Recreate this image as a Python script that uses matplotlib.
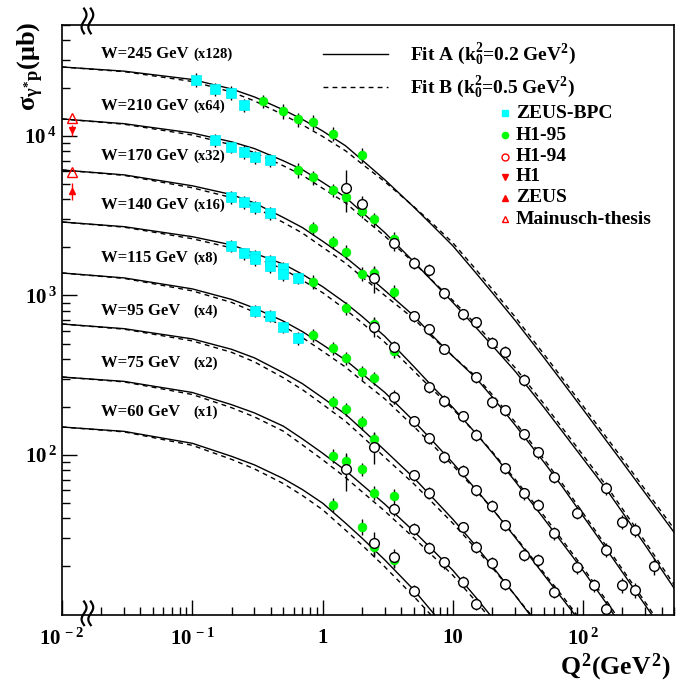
"""
gamma* p 总截面随 Q^2 的变化（不同 W，按 2^n 缩放）
Fit A / Fit B 曲线与 ZEUS、H1 数据对比
"""

import matplotlib
matplotlib.use('Agg')
import matplotlib.pyplot as plt
from matplotlib.lines import Line2D
import numpy as np

plt.rcParams['font.family'] = ['Liberation Serif', 'DejaVu Serif']
plt.rcParams['font.weight'] = 'bold'
plt.rcParams['mathtext.fontset'] = 'custom'
plt.rcParams['mathtext.rm'] = 'Liberation Serif:bold'
plt.rcParams['mathtext.it'] = 'Liberation Serif:bold'
plt.rcParams['mathtext.bf'] = 'Liberation Serif:bold'

# ---------------- 数据 ----------------
W_LABELS = ['W=245 GeV', 'W=210 GeV', 'W=170 GeV', 'W=140 GeV',
            'W=115 GeV', 'W=95 GeV', 'W=75 GeV', 'W=60 GeV']
SCALE_LABELS = ['(x128)', '(x64)', '(x32)', '(x16)', '(x8)', '(x4)', '(x2)', '(x1)']

# 拟合曲线的 Q^2 取样点 (GeV^2)
Q2_GRID = [0.01, 0.03, 0.1, 0.2, 0.3, 0.5, 0.7, 1, 1.5, 2, 3, 5, 7, 10, 15, 20,
           30, 50, 70, 100, 150, 200, 300, 500]

# Fit A (k0^2 = 0.2 GeV^2)，sigma 已乘缩放因子 (ub)
fit_a_245 = [27080, 25490, 22610, 19710, 17570, 14580, 12710, 10750, 8680, 7093, 5321, 3588,
             2739, 2046, 1386, 1044, 698.1, 407.4, 283.6, 192.3, 123.3, 90.0, 57.4, 32.6]
fit_a_210 = [12790, 11940, 10440, 9196, 8337, 6990, 6147, 5126, 4128, 3338, 2480, 1629,
             1224, 903.9, 631.0, 485.9, 335.3, 198.6, 138.6, 94.5, 61.2, 43.7, 27.1, 14.55]
fit_a_170 = [6121, 5704, 4873, 4292, 3801, 3083, 2665, 2189, 1738, 1430, 1076, 747.0,
             557.3, 415.7, 304.3, 231.4, 154.2, 90.1, 62.4, 41.3, 25.8, 18.4, 11.4]
fit_a_140 = [2889, 2700, 2337, 2076, 1839, 1573, 1358, 1136, 896.3, 741.6, 554.9, 359.3,
             267.7, 198.3, 136.6, 103.5, 68.5, 39.8, 27.7, 18.8, 11.8]
fit_a_115 = [1384, 1289, 1100, 945.2, 833.7, 690.9, 593.8, 491.5, 393.6, 323.9, 246.9, 163.6,
             122.2, 89.1, 60.9, 46.1, 30.5, 17.7, 12.4]
fit_a_95 = [662.6, 619.3, 534.4, 459.9, 406.3, 327.7, 279.9, 228.4, 179.9, 145.3, 107.0, 72.1,
            53.9, 39.5, 26.9, 20.1, 13.2]
fit_a_75 = [308.3, 289.3, 246.5, 206.8, 183.6, 151.6, 126.2, 102.6, 79.9, 65.3, 49.2, 33.3,
            25.4, 18.9, 12.8]
fit_a_60 = [149.8, 140.6, 118.4, 98.1, 86.7, 71.1, 60.7, 49.9, 37.4, 30.2, 22.0, 14.3, 10.3]
# 曲线与下边框 (sigma ~ 9.93) 的交点 Q^2
fit_a_end = [None, None, 337, 172, 86.5, 39.1, 19.3, 7.29]

# Fit B (k0^2 = 0.5 GeV^2)
fit_b_245 = [27080, 25310, 21970, 18870, 16590, 13570, 11740, 9930, 8076, 6695, 5169, 3614,
             2819, 2137, 1458, 1098, 734.3, 428.5, 298.3, 202.3, 129.7, 94.7, 60.4, 34.3]
fit_b_210 = [12790, 11850, 10140, 8806, 7869, 6503, 5678, 4701, 3813, 3106, 2358, 1606,
             1233, 930.4, 659.0, 511.1, 352.7, 208.9, 145.8, 99.4, 64.4, 46.0, 28.5, 15.3]
fit_b_170 = [6121, 5663, 4734, 4110, 3588, 2868, 2462, 2008, 1594, 1311, 1001, 715.3,
             545.4, 415.7, 311.0, 239.9, 161.0, 94.1, 65.2, 43.1, 26.9, 19.2, 11.9]
fit_b_140 = [2889, 2681, 2270, 1988, 1736, 1464, 1245, 1042, 816.1, 675.2, 508.9, 336.7,
             256.4, 194.1, 136.6, 105.0, 70.5, 41.6, 28.9, 19.6, 12.3]
fit_b_115 = [1384, 1280, 1069, 905.1, 786.9, 642.8, 544.6, 447.5, 355.8, 292.8, 224.8, 151.1,
             115.3, 85.9, 60.0, 46.1, 30.9, 18.2, 12.9]
fit_b_95 = [662.6, 614.8, 519.2, 440.4, 383.5, 304.9, 256.7, 208.0, 162.6, 131.4, 96.7, 66.1,
            50.1, 37.3, 25.9, 19.7, 13.2]
fit_b_75 = [308.3, 287.2, 239.5, 198.0, 173.3, 141.0, 115.7, 93.4, 72.2, 59.0, 44.5, 30.3,
            23.3, 17.6, 12.1]
fit_b_60 = [149.8, 139.6, 115.0, 93.9, 81.8, 66.2, 55.7, 45.4, 33.8, 27.3, 19.9, 13.0]
fit_b_end = [None, None, 349, 178.6, 89.3, 39.8, 18.4, 6.79]
SIGMA_FLOOR = 9.93

# ZEUS-BPC: (Q^2, sigma, err)
zeus_bpc = [
    (0.107, 22440, 2300), (0.149, 19630, 1900), (0.198, 18690, 1800), (0.249, 15580, 1500),
    (0.149, 9439, 900), (0.198, 8567, 800), (0.249, 7972, 750), (0.303, 7355, 700), (0.394, 7072, 650),
    (0.198, 4128, 380), (0.249, 3840, 350), (0.303, 3573, 330), (0.394, 3277, 300),
    (0.198, 2043, 180), (0.249, 1839, 160), (0.303, 1768, 150), (0.303, 1686, 150),
    (0.394, 1652, 150), (0.394, 1531, 140), (0.497, 1481, 130), (0.497, 1358, 120), (0.647, 1282, 110),
    (0.303, 799, 70), (0.394, 744, 65), (0.497, 637, 55), (0.647, 539, 50),
]

# H1-95
h1_95 = [
    (0.349, 16570, 1600), (0.497, 14350, 1500), (0.648, 12690, 1300), (0.844, 12180, 1300),
    (1.2, 10360, 1100), (2.0, 7602, 800),
    (0.648, 6120, 650), (0.844, 5494, 550), (1.2, 4585, 450), (1.5, 4128, 400), (2.0, 3402, 350),
    (2.5, 3004, 300), (3.5, 2261, 230),
    (0.844, 2638, 260), (1.2, 2155, 210), (1.5, 1882, 190), (2.0, 1364, 140), (2.5, 1378, 140),
    (3.5, 1056, 100),
    (0.844, 1220, 120), (1.5, 831, 80), (2.5, 663, 65), (3.5, 449, 45),
    (0.844, 565, 55), (1.2, 467, 45), (1.5, 404, 40), (2.0, 330, 33), (2.5, 303, 30), (3.5, 232, 23),
    (1.2, 214, 21), (1.5, 194, 19), (2.0, 160, 16), (2.5, 126, 13),
    (1.2, 98.6, 10), (1.5, 91.7, 9), (2.0, 81.7, 8), (2.5, 58.0, 6), (3.5, 55.3, 6),
    (1.2, 48.9, 5), (2.0, 35.5, 4), (2.5, 26.4, 3), (3.5, 22.0, 2.5),
]

# H1-94
h1_94 = [
    # W=210
    (1.5, 4721, 1400), (2.0, 3748, 450), (3.5, 2143, 250), (5, 1606, 130), (6.5, 1445, 120),
    (8.5, 1032, 80), (12, 766, 60), (15, 685, 50), (20, 506, 40), (25, 444, 35), (35, 295, 25),
    (150, 61.8, 6), (200, 38.2, 4), (250, 33.9, 3.5), (350, 20.1, 2.5),
    # W=170
    (2.5, 1282, 250), (5, 744, 60), (6.5, 614, 50), (8.5, 462, 35), (15, 307, 25), (20, 216, 18),
    (25, 191, 15), (35, 135, 11), (45, 104, 9), (60, 72.5, 6), (90, 43.5, 4), (150, 25.4, 2.5),
    (200, 15.3, 1.6), (250, 14.2, 1.6),
    # W=140
    (2.5, 637, 90), (3.5, 478, 40), (6.5, 266, 22), (8.5, 219, 18), (12, 176, 14), (15, 133.5, 11),
    (25, 82.5, 7), (35, 57.5, 5), (45, 48.6, 4), (60, 32.3, 3), (90, 19.9, 2), (120, 15.3, 1.5),
    (150, 10.9, 1.2),
    # W=115
    (3.5, 230, 20), (5, 163, 13), (6.5, 128, 10), (8.5, 97.6, 8), (12, 79.7, 6.5), (15, 60.3, 5),
    (20, 47.9, 4), (25, 36.4, 3), (35, 23.6, 2), (45, 22.0, 2), (60, 13.9, 1.3),
    # W=95
    (2.5, 112.7, 25), (5, 74.9, 6), (6.5, 58.0, 5), (12, 35.2, 3), (15, 26.6, 2.2), (20, 21.1, 1.8),
    (25, 15.5, 1.3),
    # W=75
    (1.5, 81.3, 22), (3.5, 45.6, 4), (5, 34.4, 3), (6.5, 26.2, 2.2), (8.5, 21.2, 1.8),
    (12, 16.1, 1.3), (15, 11.6, 1),
    # W=60
    (2.5, 27.9, 5), (3.5, 22.8, 3), (5, 14.0, 1.2),
]

# 光生产点 (Q^2 = 0 放在断轴处)
x_photo = 0.0119
h1_photo = [(10900, 900)]
zeus_photo = [(4539, 550)]
mainusch_photo = [12910, 5973]

# ---------------- 绘图 ----------------
fig = plt.figure(figsize=(6.89, 6.83), dpi=100)
W_PX, H_PX = 689, 683
ax = fig.add_axes([62 / W_PX, (H_PX - 614.5) / H_PX, 612.3 / W_PX, 590 / H_PX])
ax.set_xscale('log')
ax.set_yscale('log')
ax.set_xlim(0.01, 500)
ax.set_ylim(10, 50000)

fits_a = [fit_a_245, fit_a_210, fit_a_170, fit_a_140, fit_a_115, fit_a_95, fit_a_75, fit_a_60]
fits_b = [fit_b_245, fit_b_210, fit_b_170, fit_b_140, fit_b_115, fit_b_95, fit_b_75, fit_b_60]


def curve_xy(sig, q_end):
    q = list(Q2_GRID[:len(sig)])
    s = list(sig)
    if q_end is not None:
        q.append(q_end)
        s.append(SIGMA_FLOOR)
    return q, s


for sa, ea in zip(fits_a, fit_a_end):
    ax.plot(*curve_xy(sa, ea), color='black', lw=1.0, zorder=2)
for sb, eb in zip(fits_b, fit_b_end):
    ax.plot(*curve_xy(sb, eb), color='black', lw=1.0, dashes=(3.5, 3), zorder=2)


def draw_points(data, **kw):
    q, s, e = (np.array(v) for v in zip(*data))
    ax.errorbar(q, s, yerr=e, fmt='none', ecolor='black', elinewidth=1.0, capsize=0, zorder=3)
    ax.plot(q, s, linestyle='none', zorder=4, **kw)


draw_points(zeus_bpc, marker='s', ms=6.5, mfc='#00ffff', mec='#00e8f0', mew=0.5)
draw_points(h1_95, marker='o', ms=6.3, mfc='#00ff00', mec='#00ee00', mew=0.5)
draw_points(h1_94, marker='o', ms=7, mfc='white', mec='black', mew=1.0)

# 光生产
for s, e in h1_photo:
    ax.errorbar([x_photo], [s], yerr=[e], fmt='none', ecolor='red', elinewidth=1.0, capsize=0)
    ax.plot([x_photo], [s], marker='v', ms=5, color='red', ls='none')
for s, e in zeus_photo:
    ax.errorbar([x_photo], [s], yerr=[e], fmt='none', ecolor='red', elinewidth=1.0, capsize=0)
    ax.plot([x_photo], [s], marker='^', ms=5, color='red', ls='none')
ax.plot([x_photo] * len(mainusch_photo), mainusch_photo, marker='^', ms=7, mfc='none',
        mec='red', mew=1.0, ls='none')

# 坐标轴样式 (ROOT 风格)
for sp in ax.spines.values():
    sp.set_linewidth(1.2)
ax.tick_params(which='both', direction='in', top=False, right=False, width=1.0)
ax.tick_params(which='major', length=11)
ax.tick_params(which='minor', length=6)
ax.set_xticks([0.01, 0.1, 1, 10, 100])
ax.set_xticklabels([r'$10^{\,-2}$', r'$10^{\,-1}$', '1', '10', r'$10^{\,2}$'],
                   fontsize=15, fontweight='bold')
ax.set_yticks([100, 1000, 10000])
ax.set_yticklabels([r'$10^{\,2}$', r'$10^{\,3}$', r'$10^{\,4}$'], fontsize=15, fontweight='bold')
ax.tick_params(axis='x', pad=10)
ax.tick_params(axis='y', pad=4)

fig.text(31 / W_PX, 1 - 22 / H_PX, r'$\sigma_{\gamma^{*}p}(\mu b)$', fontsize=19,
         rotation=90, ha='center', va='top')
fig.text(671 / W_PX, 1 - 667 / H_PX, r'$Q^{2}(GeV^{2})$', fontsize=18.5, ha='right',
         va='center')


# 断轴符号
def wave(xc, y0, y1):
    t = np.linspace(0, 1, 40)
    xs = xc + 0.004 * np.sin(2 * np.pi * t + np.pi)
    ys = y0 + (y1 - y0) * t
    ax.plot(xs, ys, color='black', lw=1.6, transform=ax.transAxes, clip_on=False, zorder=6)


for xc in (0.036, 0.047):
    wave(xc, -0.018, 0.022)
    wave(xc, 0.985, 1.027)

# W 标签
label_y = [54, 106, 156, 205, 258, 311, 363, 412]
for lab, sc, yy in zip(W_LABELS, SCALE_LABELS, label_y):
    fig.text(101 / W_PX, 1 - yy / H_PX, lab, fontsize=12, va='center', ha='left')
    fig.text(193 / W_PX, 1 - yy / H_PX, sc, fontsize=10.5, va='center', ha='left')

# 图例
fig.add_artist(Line2D([323 / W_PX, 388 / W_PX], [1 - 54 / H_PX] * 2, color='black', lw=1.0))
fig.add_artist(Line2D([323 / W_PX, 388 / W_PX], [1 - 87 / H_PX] * 2, color='black', lw=1.0,
                      dashes=(3.5, 3)))
fig.text(410 / W_PX, 1 - 54 / H_PX, r'Fit A (k$_{0}^{2}$=0.2 GeV$^{2}$)', fontsize=14,
         va='center', ha='left')
fig.text(410 / W_PX, 1 - 87 / H_PX, r'Fit B (k$_{0}^{2}$=0.5 GeV$^{2}$)', fontsize=14,
         va='center', ha='left')

legend_items = [
    ('ZEUS-BPC', dict(marker='s', ms=4, mfc='#00ffff', mec='#00ffff')),
    ('H1-95', dict(marker='o', ms=4.5, mfc='#00ff00', mec='#00ff00')),
    ('H1-94', dict(marker='o', ms=5, mfc='none', mec='red', mew=1.0)),
    ('H1', dict(marker='v', ms=4, mfc='red', mec='red')),
    ('ZEUS', dict(marker='^', ms=4, mfc='red', mec='red')),
    ('Mainusch-thesis', dict(marker='^', ms=5, mfc='none', mec='red', mew=1.0)),
]
leg_y = [113, 135, 156.5, 177, 198, 219]
for (name, mk), yy in zip(legend_items, leg_y):
    fig.add_artist(Line2D([505 / W_PX], [1 - yy / H_PX], ls='none', **mk))
    fig.text(516 / W_PX, 1 - yy / H_PX, name, fontsize=14, va='center', ha='left')

fig.savefig('out.png', dpi=100)
